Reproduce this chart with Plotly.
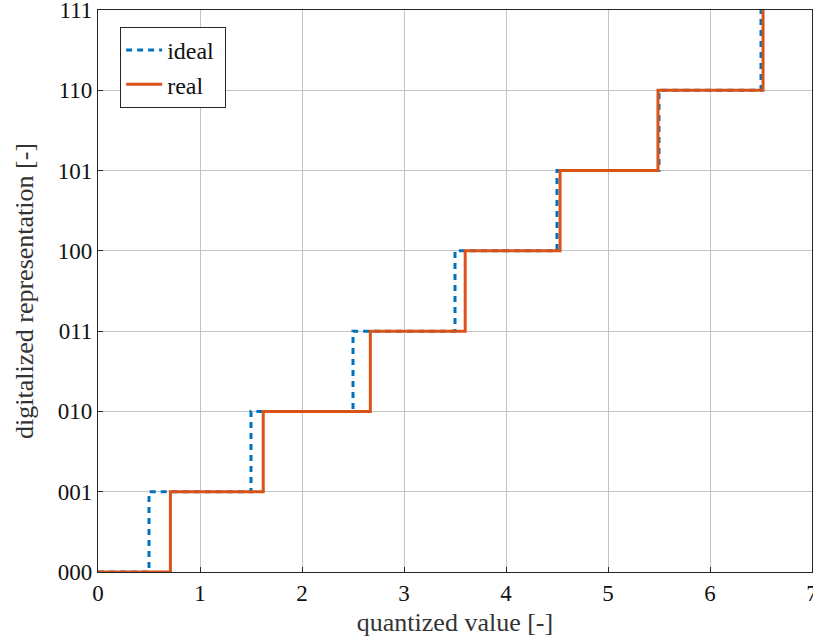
import plotly.graph_objects as go

ideal_x = [0, 0.5, 1.5, 2.5, 3.5, 4.5, 5.5, 6.5]
real_x = [0, 0.71, 1.62, 2.67, 3.6, 4.53, 5.49, 6.52]
levels = [0, 1, 2, 3, 4, 5, 6, 7]
tick_labels = ["000", "001", "010", "011", "100", "101", "110", "111"]
x_ticks = [0, 1, 2, 3, 4, 5, 6, 7]
series_names = ["ideal", "real"]

FONT = "Liberation Serif"
PAD = "\u00a0"

fig = go.Figure()
fig.add_trace(go.Scatter(x=ideal_x, y=levels, mode="lines", line_shape="hv",
                         name=series_names[0] + PAD,
                         line=dict(color="#0072BD", width=3, dash="6px,5px")))
fig.add_trace(go.Scatter(x=real_x, y=levels, mode="lines", line_shape="hv",
                         name=series_names[1] + PAD,
                         line=dict(color="#D95319", width=3)))

axis_common = dict(
    showgrid=True, gridcolor="#c4c4c4", gridwidth=1,
    showline=True, linecolor="#262626", linewidth=1.2, mirror=True,
    ticks="inside", ticklen=5, tickcolor="#262626",
    zeroline=False, tickfont=dict(family=FONT, size=23, color="#111"),
    automargin=False, ticklabeloverflow="allow",
)

fig.update_xaxes(range=[0, 7], tickvals=x_ticks,
                 title=dict(text="quantized value [-]", font=dict(family=FONT, size=26, color="#333"), standoff=8),
                 **axis_common)
fig.update_yaxes(range=[0, 7], tickvals=levels, ticktext=tick_labels,
                 title=dict(text="digitalized representation [-]", font=dict(family=FONT, size=26, color="#333"), standoff=16),
                 **axis_common)

fig.update_layout(
    width=813, height=642,
    margin=dict(l=98, r=1, t=10, b=70),
    plot_bgcolor="white", paper_bgcolor="white",
    legend=dict(x=0.031, y=0.97, xanchor="left", yanchor="top",
                bgcolor="white", bordercolor="#262626", borderwidth=1,
                tracegroupgap=0, itemwidth=36,
                font=dict(family=FONT, size=24, color="#111")),
)

fig.write_html("out.html", config={"displayModeBar": False},
               post_script="document.body.style.margin='0px';")
